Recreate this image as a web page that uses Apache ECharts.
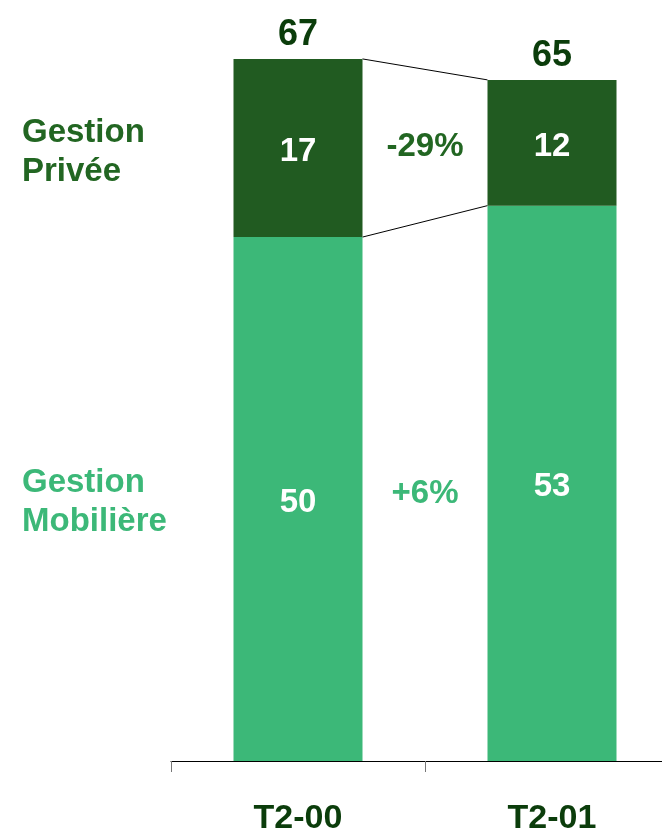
<!DOCTYPE html>
<html>
<head>
<meta charset="utf-8">
<script src="https://cdn.jsdelivr.net/npm/echarts@6/dist/echarts.min.js"></script>
<style>
  html, body { margin: 0; padding: 0; background: #fff; }
  #chart { width: 662px; height: 829px; }
</style>
</head>
<body>
<div id="chart"></div>
<script>
const categories = ['T2-00', 'T2-01']
const mobiliere = [50, 53]
const privee = [17, 12]
const totals = [67, 65]
const changes = ['-29%', '+6%'] // privée, mobilière
const names = ['Gestion\nPrivée', 'Gestion\nMobilière']

const DARK = '#215B21'
const LIGHT = '#3CB878'
const FONT = '"Liberation Sans", Arial, sans-serif'
const BAR_W = 129

const chart = echarts.init(document.getElementById('chart'))

const valueLabel = {
  show: true,
  position: 'inside',
  offset: [0, 4],
  color: '#fff',
  fontFamily: FONT,
  fontWeight: 'bold',
  fontSize: 33,
}

const options = {
  animation: false,
  grid: { left: 171, top: 27.5, bottom: 68, width: 508, outerBoundsMode: 'none' },
  xAxis: {
    type: 'category',
    data: categories,
    axisLine: { lineStyle: { color: '#000', width: 1 } },
    axisTick: { show: true, length: 11, lineStyle: { color: '#777' } },
    axisLabel: {
      color: '#0B3D0B',
      fontFamily: FONT,
      fontWeight: 'bold',
      fontSize: 34,
      margin: 41,
    },
  },
  yAxis: {
    type: 'value',
    min: 0,
    max: 70,
    show: false,
    splitLine: { show: false },
  },
  series: [
    {
      name: 'Gestion Mobilière',
      type: 'bar',
      stack: 'total',
      barWidth: BAR_W,
      data: mobiliere,
      itemStyle: { color: LIGHT },
      label: valueLabel,
    },
    {
      name: 'Gestion Privée',
      type: 'bar',
      stack: 'total',
      barWidth: BAR_W,
      data: privee,
      itemStyle: { color: DARK },
      label: valueLabel,
    },
    {
      // totaux au-dessus des barres
      type: 'custom',
      data: totals.map((t, i) => [i, t]),
      renderItem: (params, api) => {
        const p = api.coord([api.value(0), api.value(1)])
        return {
          type: 'text',
          x: p[0],
          y: p[1] - 24,
          style: {
            text: String(api.value(1)),
            fill: '#0B3D0B',
            font: 'bold 36px ' + FONT,
            align: 'center',
            verticalAlign: 'middle',
          },
        }
      },
    },
    {
      // lignes de liaison + évolutions
      type: 'custom',
      data: [[0]],
      renderItem: (params, api) => {
        const half = BAR_W / 2
        const a0 = api.coord([0, totals[0]])
        const a1 = api.coord([1, totals[1]])
        const b0 = api.coord([0, mobiliere[0]])
        const b1 = api.coord([1, mobiliere[1]])
        const z0 = api.coord([0, 0])
        const z1 = api.coord([1, 0])
        const line = (p, q) => ({
          type: 'line',
          shape: { x1: p[0] + half, y1: p[1], x2: q[0] - half, y2: q[1] },
          style: { stroke: '#000', lineWidth: 1 },
        })
        const midX = (a0[0] + a1[0]) / 2
        const txt = (s, y, c) => ({
          type: 'text',
          x: midX,
          y: y,
          style: {
            text: s,
            fill: c,
            font: 'bold 33px ' + FONT,
            align: 'center',
            verticalAlign: 'middle',
          },
        })
        const yPriv = ((a0[1] + b0[1]) / 2 + (a1[1] + b1[1]) / 2) / 2
        const yMob = ((b0[1] + z0[1]) / 2 + (b1[1] + z1[1]) / 2) / 2
        return {
          type: 'group',
          children: [
            line(a0, a1),
            line(b0, b1),
            txt(changes[0], yPriv + 2, '#226622'),
            txt(changes[1], yMob + 3, LIGHT),
          ],
        }
      },
    },
    {
      // noms des activités à gauche
      type: 'custom',
      data: [[0]],
      renderItem: (params, api) => {
        const top = api.coord([0, totals[0]])
        const mid = api.coord([0, mobiliere[0]])
        const zero = api.coord([0, 0])
        const name = (s, y, c) => ({
          type: 'text',
          x: 22,
          y: y,
          style: {
            text: s,
            fill: c,
            font: 'bold 33px ' + FONT,
            lineHeight: 39,
            align: 'left',
            verticalAlign: 'middle',
          },
        })
        return {
          type: 'group',
          children: [
            name(names[0], (top[1] + mid[1]) / 2 + 4, '#226622'),
            name(names[1], (mid[1] + zero[1]) / 2 + 3, LIGHT),
          ],
        }
      },
    },
  ],
}

chart.setOption(options)
window.onresize = function () {
  chart.resize()
}
</script>
</body>
</html>
